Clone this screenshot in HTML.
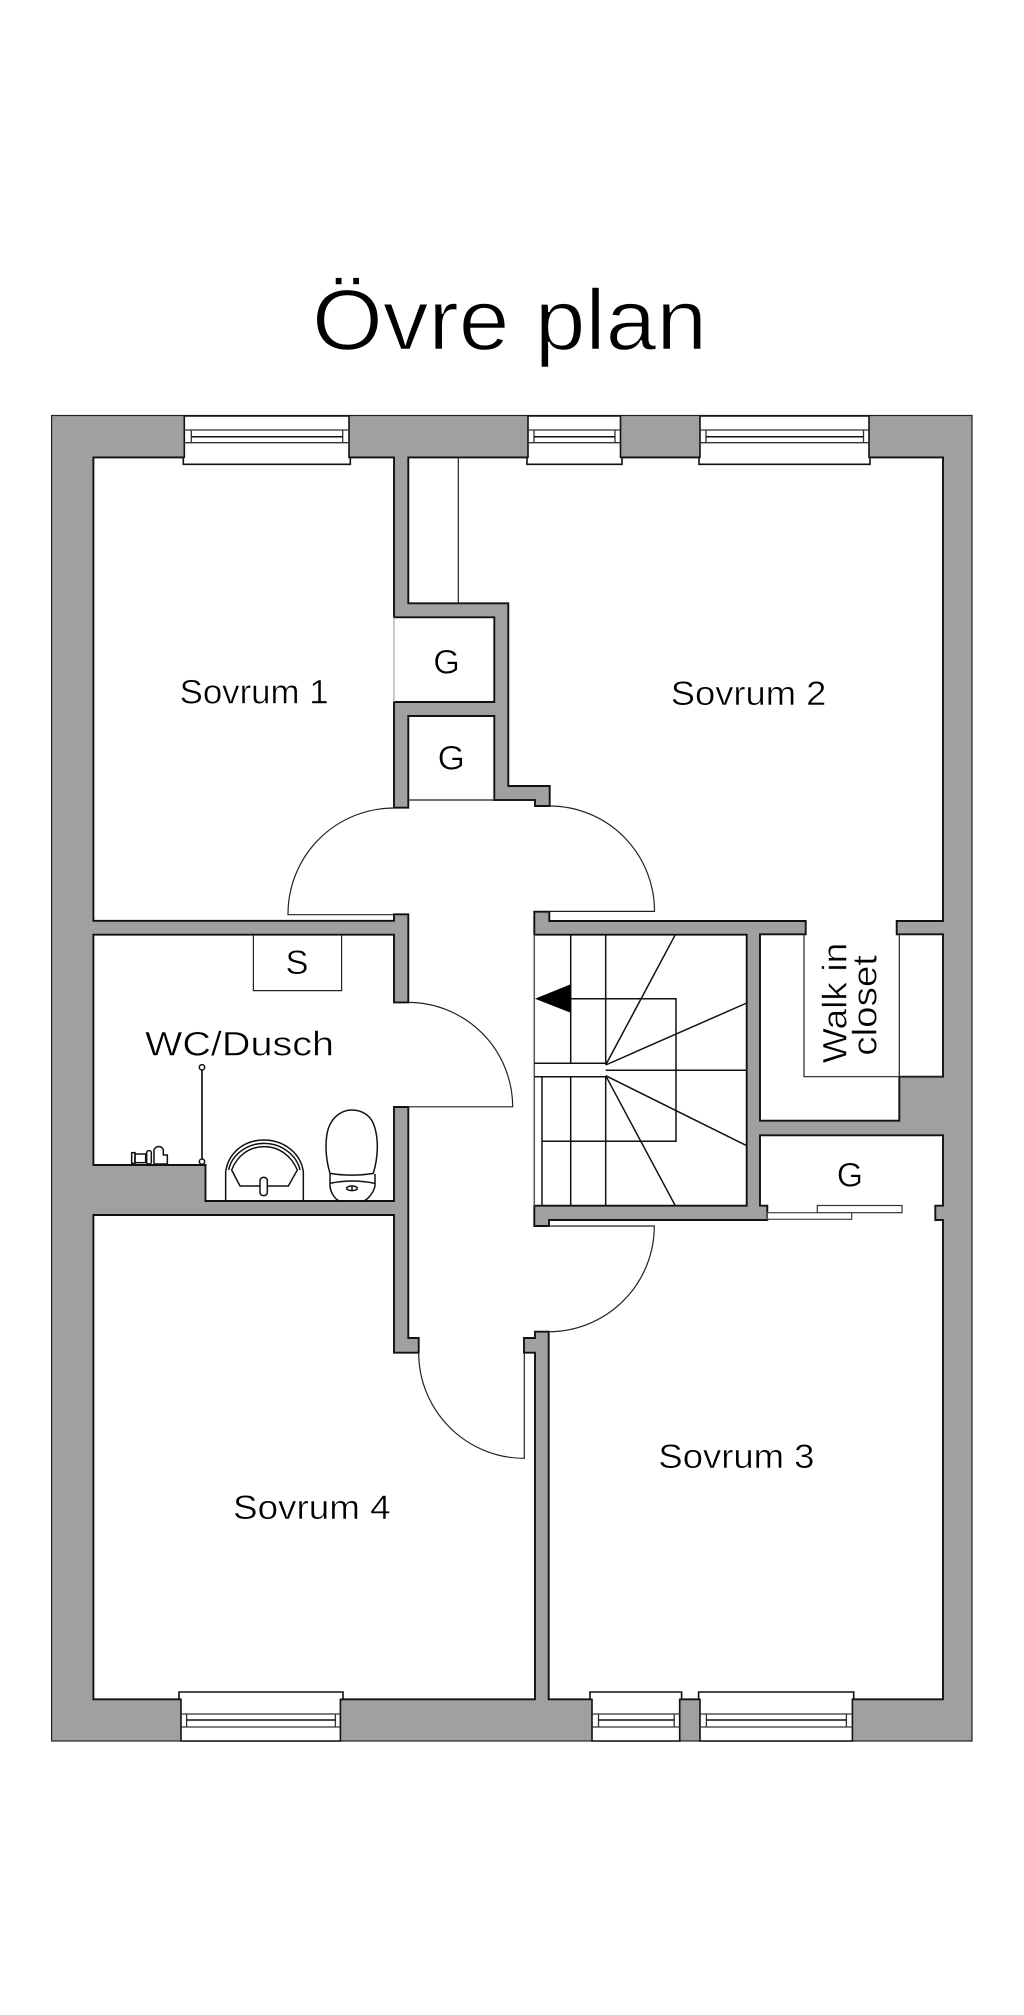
<!DOCTYPE html>
<html lang="sv">
<head>
<meta charset="utf-8">
<title>Övre plan</title>
<style>
html,body{margin:0;padding:0;background:#fff}
svg{display:block}
text{font-family:"Liberation Sans",sans-serif;fill:#000;stroke:#fff;stroke-width:.5px;paint-order:normal}
</style>
</head>
<body>
<svg xmlns="http://www.w3.org/2000/svg" width="1024" height="2015" viewBox="0 0 1024 2015">
<rect width="1024" height="2015" fill="#fff"/>
<text x="312" y="349.5" font-size="86" textLength="395" lengthAdjust="spacingAndGlyphs" style="stroke-width:1.4px">Övre plan</text>

<!-- walls -->
<rect x="51.6" y="415.5" width="920.4" height="1325.5" fill="#a0a0a0" stroke="#222" stroke-width="1.2"/>
<path fill="#fff" stroke="#111" stroke-width="1.9" stroke-linejoin="miter" d="M93.4 457.4H394V617.3H494.3V702H394V807.7H408.3V716H494.3V800H535V806H549.7V786H508.3V603.3H408.3V457.4H943V921H896.7V934.3H943V1076.7H899.3V1120.7H760V934.3H805.7V921H549.3V911.7H534.3V934.7H746.7V1205.7H534.3V1226H549V1220H767.3V1205.7H760V1135.3H943V1205.7H935.3V1220H943V1699.3H548.7V1331.7H535V1338H524V1352.7H535V1699.3H93.4V1215H394V1352.7H418.7V1338H408.3V1107H394V1201H205.5V1165H93.4V934.7H394V1002.4H408.3V914.3H394V920.8H93.4Z"/>

<!-- windows -->
<g stroke="#111" stroke-width="1.6" fill="#fff">
  <path d="M184.3 416H349V457.3H350.3V464.3H183.3V457.3H184.3Z"/>
  <path d="M528 416H620.5V457.3H622V464.3H527V457.3H528Z"/>
  <path d="M700 416H869V457.3H870V464.3H699V457.3H700Z"/>
  <path d="M181 1741H340.4V1699.3H343V1692H179V1699.3H181Z"/>
  <path d="M592 1741H679.7V1699.3H681.6V1692H590V1699.3H592Z"/>
  <path d="M700 1741H852.4V1699.3H853.7V1692H698.6V1699.3H700Z"/>
</g>
<g stroke="#333" stroke-width="1.3" fill="none">
  <path d="M184.3 430H349M184.3 442.7H349M191.3 430V442.7M342.7 430V442.7"/>
  <path d="M528 430H620.5M528 442.7H620.5M534 430V442.7M615 430V442.7"/>
  <path d="M700 430H869M700 442.7H869M706 430V442.7M863.5 430V442.7"/>
  <path d="M181 1714H340.4M181 1727H340.4M186.6 1714V1727M335.4 1714V1727"/>
  <path d="M592 1714H679.7M592 1727H679.7M598.5 1714V1727M674.2 1714V1727"/>
  <path d="M700 1714H852.4M700 1727H852.4M706.4 1714V1727M846.4 1714V1727"/>
</g>
<g stroke="#111" stroke-width="1.5" fill="none">
  <path d="M191.3 436.7H342.7M534 436.7H615M706 436.7H863.5"/>
  <path d="M186.6 1720H335.4M598.5 1720H674.2M706.4 1720H846.4"/>
</g>

<!-- thin lines -->
<g fill="none" stroke="#222" stroke-width="1.2">
  <path d="M458.3 457.4V603.3"/>
  <path d="M408.3 800H535"/>
  <path d="M394 617.3V702" stroke="#aaa"/>
  <path d="M804 934.3V1076.7H943"/>
  <path d="M899.3 934.3V1076.7"/>
  <path d="M394 808A106 106 0 0 0 288 914.7H394"/>
  <path d="M549.7 806A105 105 0 0 1 654.5 911.4H549.7"/>
  <path d="M408 1002.4A104.7 104.7 0 0 1 512.7 1106.8H408"/>
  <path d="M418.7 1352.7A105.6 105.6 0 0 0 524.3 1458.3V1352.7"/>
  <path d="M548.7 1331.7A105.6 105.6 0 0 0 654.3 1226H549"/>
  <rect x="817.3" y="1205.5" width="84.7" height="7.2" fill="#fff" stroke="#333"/>
  <rect x="767.3" y="1212.7" width="84.4" height="6.6" fill="#fff" stroke="#444"/>
  <path d="M253.4 934.7V990.6H341.6V934.7"/>
</g>

<!-- stairs -->
<g fill="none" stroke="#111" stroke-width="1.5">
  <path d="M534.3 934.7V1205.7" stroke="#555"/>
  <path d="M570.7 934.7V1063.3M570.7 1076.7V1205.7"/>
  <path d="M605.7 934.7V1063.3M605.7 1076.7V1205.7"/>
  <path d="M542 1076.7V1205.7"/>
  <path d="M534.3 1063.3H605.7M534.3 1076.7H605.7"/>
  <path d="M570.7 998.7H676V1141.3H542"/>
  <path d="M605.7 1070.3H746.7"/>
  <path d="M605.7 1065L675.3 934.7M605.7 1065L746.7 1003M605.7 1075.7L746.7 1145.7M605.7 1075.7L675.3 1205.7"/>
</g>
<path d="M535 998.7L570.7 984.3V1012.7Z" fill="#000"/>

<!-- bathroom fixtures -->
<g transform="translate(80 1000) scale(.33333)" fill="none" stroke="#111" stroke-width="4.5">
  <path d="M366 202V485" stroke-width="5"/>
  <circle cx="366" cy="202" r="8" fill="#fff"/>
  <circle cx="366" cy="485" r="8" fill="#fff"/>
  <path d="M437 603V515C445 460 490 420 552 420C612 420 662 460 670 515V603"/>
  <path d="M446 510C455 465 500 430 552 430C605 430 650 465 660 510"/>
  <path d="M455 510L480 558H625L652 510C635 470 600 440 552 440C505 440 470 470 455 510Z"/>
  <rect x="540" y="532" width="22" height="55" rx="10" fill="#fff"/>
  <path d="M750 520C735 470 735 420 745 385C760 345 790 330 815 330C845 330 875 345 885 385C895 420 895 470 880 520C840 527 790 527 750 520Z"/>
  <path d="M750 522L750 558C752 580 768 603 782 603M885 522V558C880 580 860 603 848 603M750 550Q815 536 885 550"/>
  <ellipse cx="816" cy="565" rx="16" ry="7"/>
  <path d="M816 558V572"/>
  <rect x="155" y="458" width="10" height="32"/>
  <rect x="165" y="462" width="32" height="26"/>
  <rect x="200" y="452" width="14" height="40" rx="6"/>
  <path d="M222 492V450C228 436 245 436 250 450V465H262V492Z"/>
</g>

<!-- labels -->
<text x="179.6" y="703.3" font-size="34" textLength="149" lengthAdjust="spacingAndGlyphs">Sovrum 1</text>
<text x="670.8" y="705" font-size="34" textLength="155.5" lengthAdjust="spacingAndGlyphs">Sovrum 2</text>
<text x="658.4" y="1467.8" font-size="34" textLength="156" lengthAdjust="spacingAndGlyphs">Sovrum 3</text>
<text x="233" y="1518.8" font-size="34" textLength="157.6" lengthAdjust="spacingAndGlyphs">Sovrum 4</text>
<text x="145" y="1055.7" font-size="34" textLength="189" lengthAdjust="spacingAndGlyphs">WC/Dusch</text>
<text x="285.5" y="974" font-size="34" textLength="23" lengthAdjust="spacingAndGlyphs">S</text>
<text x="433.3" y="673.5" font-size="34" textLength="26.7" lengthAdjust="spacingAndGlyphs">G</text>
<text x="437.7" y="769.5" font-size="34" textLength="27.3" lengthAdjust="spacingAndGlyphs">G</text>
<text x="836.7" y="1186.5" font-size="34" textLength="26.3" lengthAdjust="spacingAndGlyphs">G</text>
<text transform="translate(846.7 1063.3) rotate(-90)" font-size="34" textLength="120.6" lengthAdjust="spacingAndGlyphs">Walk in</text>
<text transform="translate(876.7 1055.7) rotate(-90)" font-size="34" textLength="100.7" lengthAdjust="spacingAndGlyphs">closet</text>
</svg>
</body>
</html>
